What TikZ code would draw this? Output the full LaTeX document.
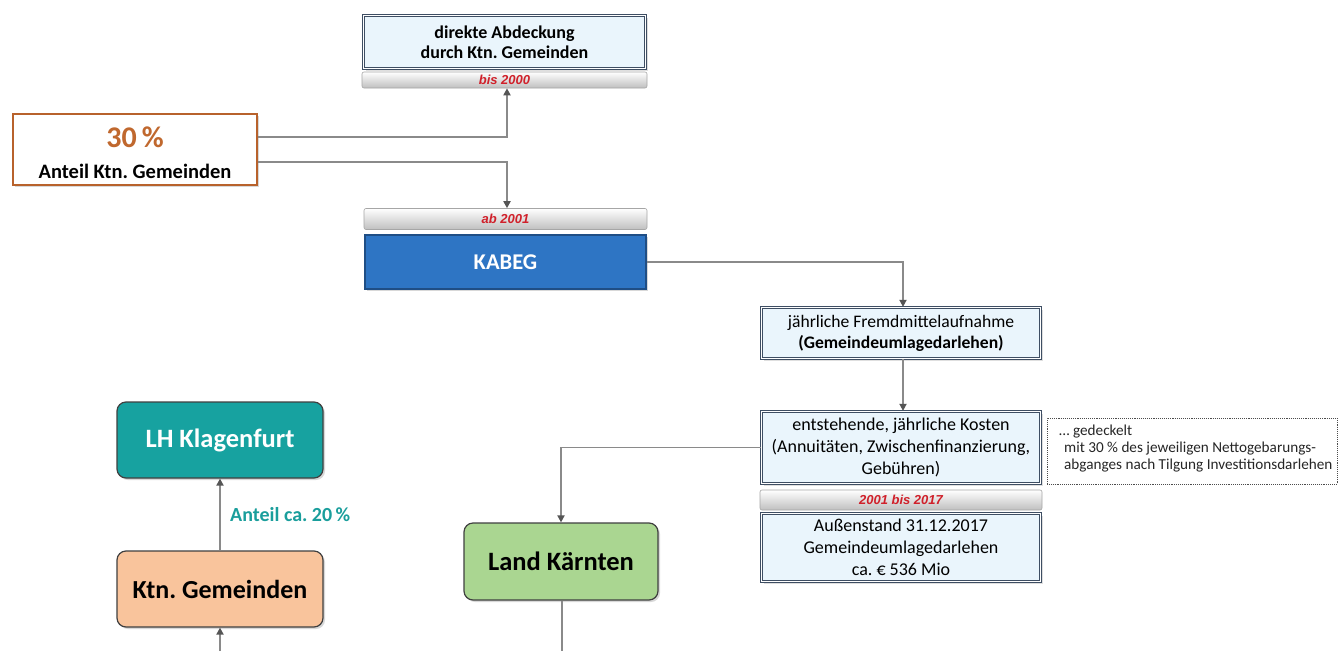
\documentclass[tikz,border=0pt]{standalone}
\usepackage{fontspec}
\setmainfont{Carlito}
\newfontfamily\arialf{Liberation Sans}
\usetikzlibrary{arrows.meta,shadows,calc}
\frenchspacing
\definecolor{boxfill}{HTML}{EAF5FC}
\definecolor{boxline}{HTML}{3E4E63}
\definecolor{bannerred}{HTML}{D0202A}
\definecolor{pctbrown}{HTML}{B8622C}
\definecolor{pcttext}{HTML}{C0682E}
\definecolor{kabegblue}{HTML}{2E75C4}
\definecolor{kabegline}{HTML}{1F4E85}
\definecolor{lhteal}{HTML}{17A2A0}
\definecolor{ktnpeach}{HTML}{F9C49C}
\definecolor{landgreen}{HTML}{AAD691}
\definecolor{conn}{HTML}{8A8A8A}
\definecolor{tipc}{HTML}{555555}
\definecolor{tealtext}{HTML}{1A9E9C}
\tikzset{
  infobox/.style={draw=boxline, line width=1.3pt, double=white, double distance=1.2pt, fill=boxfill,
    align=center, inner sep=0pt, drop shadow={opacity=0.25, shadow xshift=2pt, shadow yshift=-2pt}},
  banner/.style={draw=gray!70, line width=0.6pt, rounded corners=2pt, top color=white, bottom color=gray!50,
    align=center, inner sep=0pt, font=\arialf\bfseries\itshape\fontsize{13}{14}\selectfont, text=bannerred},
  roundbox/.style={draw=black!75, line width=1.2pt, rounded corners=9pt, align=center, inner sep=0pt,
    minimum width=206pt, minimum height=76pt, font=\bfseries\fontsize{26.5}{30}\selectfont,
    drop shadow={opacity=0.3, shadow xshift=2pt, shadow yshift=-2pt}},
  conline/.style={draw=conn, line width=1.8pt},
  arr/.style={conline, -{Triangle[length=7pt,width=7pt,color=tipc]}},
}
\begin{document}
\begin{tikzpicture}[x=1pt,y=-1pt]
\useasboundingbox (0,0) rectangle (1339,651);
\fill[white] (0,0) rectangle (1339,651);

% top box
\node[infobox, minimum width=282pt, minimum height=53pt, font=\bfseries\fontsize{18}{20.5}\selectfont]
  (direkt) at (504.5,42) {direkte Abdeckung\\durch Ktn. Gemeinden};
\node[banner, minimum width=285pt, minimum height=16pt] (bis2000) at (504.5,80) {bis 2000};

% 30 % box
\node[draw=pctbrown, line width=2.8pt, fill=white, minimum width=244pt, minimum height=71pt, inner sep=0pt,
  drop shadow={opacity=0.3, shadow xshift=2pt, shadow yshift=-2pt}] (pct) at (135,149.5) {};
\node[inner sep=0pt, text=pcttext, font=\bfseries\fontsize{30}{32}\selectfont] (pctnum) at (135,137) {30\,\%};
\node[inner sep=0pt, font=\bfseries\fontsize{20.5}{22}\selectfont] (pctlbl) at (135,171) {Anteil Ktn. Gemeinden};

% ab 2001 + KABEG
\node[banner, minimum width=283pt, minimum height=21pt] (ab2001) at (505.5,219) {ab 2001};
\node[draw=kabegline, line width=1.5pt, fill=kabegblue, minimum width=281pt, minimum height=54pt, inner sep=0pt,
  text=white, font=\bfseries\fontsize{22.5}{24}\selectfont,
  drop shadow={opacity=0.3, shadow xshift=2pt, shadow yshift=-2pt}] (kabeg) at (505.5,262) {KABEG};

% Fremdmittel
\node[infobox, minimum width=279pt, minimum height=51pt, font=\fontsize{17.6}{21}\selectfont]
  (fremd) at (901,333) {jährliche Fremdmittelaufnahme\\\textbf{(Gemeindeumlagedarlehen)}};

% Kosten
\node[infobox, minimum width=279pt, minimum height=72pt, font=\fontsize{18}{22}\selectfont]
  (kosten) at (901,447.5) {entstehende, jährliche Kosten\\(Annuitäten, Zwischenfinanzierung,\\Gebühren)};
\node[banner, minimum width=282pt, minimum height=20pt]
  (bis2017) at (901,500) {2001 bis 2017};
\node[infobox, minimum width=279pt, minimum height=68pt, font=\fontsize{18}{22}\selectfont]
  (aussen) at (901,547.5) {Außenstand 31.12.2017\\Gemeindeumlagedarlehen\\ca. € 536 Mio};

% note
\node[draw=black!70, densely dotted, line width=0.9pt, fill=white, minimum width=290pt, minimum height=66pt,
  inner sep=0pt] (note) at (1192,451) {};
\node[anchor=north west, align=left, inner sep=0pt, font=\fontsize{15.2}{17}\selectfont, text=black!85]
  (notetext) at (1059,425) {\dots\ gedeckelt\\\hspace*{5pt}mit 30 \% des jeweiligen Nettogebarungs-\\\hspace*{5pt}abganges nach Tilgung Investitionsdarlehen};

% rounded boxes
\node[roundbox, fill=lhteal, text=white] (lh) at (220,440) {LH Klagenfurt};
\node[roundbox, fill=ktnpeach, text=black, font=\bfseries\fontsize{26}{30}\selectfont] (ktng) at (220,589) {Ktn. Gemeinden};
\node[roundbox, fill=landgreen, text=black, minimum width=194pt, minimum height=77pt] (land) at (561,561.5) {Land Kärnten};

\coordinate (botk) at (220,651);
\coordinate (botl) at (562,651);

% connectors
\draw[arr] ([yshift=12.5pt]pct.east) -| ([xshift=2.5pt]bis2000.south);
\draw[arr] ([yshift=-12.5pt]pct.east) -| ([xshift=1.5pt]ab2001.north);
\draw[arr] (kabeg.east) -| ([xshift=2pt]fremd.north);
\draw[arr] ([xshift=2pt]fremd.south) -- ([xshift=2pt]kosten.north);
\draw[arr] (kosten.west) -| (land.north);
\draw[conline] ([xshift=1pt]land.south) -- (botl);
\draw[arr] (ktng.north) -- node[right=6pt, font=\bfseries\fontsize{20}{22}\selectfont, text=tealtext] (lbl) {Anteil ca. 20\,\%} (lh.south);
\draw[arr] (botk) -- (ktng.south);
\end{tikzpicture}
\end{document}
